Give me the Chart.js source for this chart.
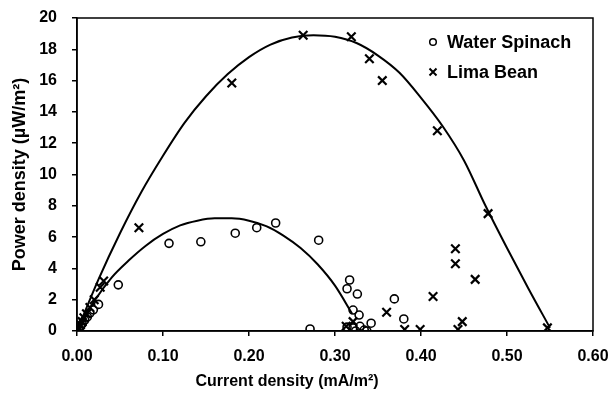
<!DOCTYPE html>
<html>
<head>
<meta charset="utf-8">
<script src="https://cdn.jsdelivr.net/npm/chart.js@4"></script>
<style>
  html, body { margin: 0; padding: 0; background: #fff; }
  #wrap { width: 609px; height: 394px; }
</style>
</head>
<body>
<div id="wrap"><canvas id="grafico" width="609" height="394"></canvas></div>
<script>
// measured points, current density (mA/m2) vs power density (uW/m2)
const spinachX = [0.002, 0.004, 0.006, 0.009, 0.012, 0.015, 0.019, 0.025, 0.048, 0.107, 0.144, 0.184, 0.209, 0.231, 0.281,
                  0.271, 0.317, 0.314, 0.326, 0.369, 0.380, 0.321, 0.328, 0.342, 0.314, 0.321, 0.324, 0.329, 0.334, 0.337];
const spinachY = [0.1, 0.3, 0.45, 0.7, 0.9, 1.15, 1.35, 1.7, 2.95, 5.6, 5.7, 6.25, 6.6, 6.9, 5.8,
                  0.13, 3.26, 2.7, 2.36, 2.05, 0.77, 1.34, 1.02, 0.5, 0.25, 0.2, 0.0, 0.3, 0.06, 0.0];

const limaX = [0.001, 0.002, 0.004, 0.006, 0.008, 0.011, 0.015, 0.020, 0.027, 0.031, 0.072, 0.180, 0.263, 0.319, 0.340,
               0.355, 0.419, 0.478, 0.440, 0.440, 0.463, 0.414, 0.360, 0.448, 0.443, 0.381, 0.399, 0.547, 0.321, 0.313];
const limaY = [0.05, 0.2, 0.4, 0.6, 0.85, 1.1, 1.5, 2.0, 2.8, 3.2, 6.6, 15.85, 18.9, 18.8, 17.4,
               16.0, 12.8, 7.5, 5.25, 4.3, 3.3, 2.2, 1.2, 0.6, 0.1, 0.1, 0.1, 0.2, 0.6, 0.3];

// fitted curves
const spinachFitX = [0, 0.02, 0.04, 0.06, 0.08, 0.10, 0.12, 0.14, 0.16, 0.18, 0.20, 0.22, 0.24, 0.26, 0.28, 0.30, 0.32];
const spinachFitY = [0, 1.9, 3.4, 4.5, 5.45, 6.2, 6.75, 7.05, 7.2, 7.2, 7.05, 6.7, 6.1, 5.3, 4.25, 2.9, 1.1];

const limaFitX = [0, 0.025, 0.05, 0.075, 0.10, 0.125, 0.15, 0.175, 0.20, 0.225, 0.25, 0.275, 0.30, 0.325,
                  0.35, 0.375, 0.40, 0.425, 0.45, 0.475, 0.50, 0.525, 0.55];
const limaFitY = [0, 3.3, 6.25, 8.9, 11.2, 13.3, 15.0, 16.4, 17.5, 18.3, 18.75, 18.9, 18.8, 18.4,
                  17.6, 16.5, 14.9, 13.1, 10.9, 8.0, 5.3, 2.7, 0.2];

const seriesNames = ["Water Spinach", "Lima Bean"];
const xTicks = [0, 0.1, 0.2, 0.3, 0.4, 0.5, 0.6];
const yTicks = [0, 2, 4, 6, 8, 10, 12, 14, 16, 18, 20];

const pares = (xs, ys) => xs.map((x, i) => ({ x: x, y: ys[i] }));

const fonte = "'Liberation Sans', Arial, sans-serif";

// frame around the plot + legend inside the plot + x title
const extras = {
    id: 'extras',
    afterDraw(chart) {
        const ctx = chart.ctx;
        const a = chart.chartArea;
        ctx.save();
        ctx.strokeStyle = '#000';
        ctx.lineWidth = 1.5;
        ctx.strokeRect(a.left, a.top, a.right - a.left, a.bottom - a.top);

        ctx.font = "bold 18px " + fonte;
        ctx.textBaseline = 'middle';
        ctx.fillStyle = '#000';
        const lx = 433, ly = [42, 72];
        // circle
        ctx.lineWidth = 1.5;
        ctx.beginPath();
        ctx.arc(lx, ly[0], 3.3, 0, Math.PI * 2);
        ctx.stroke();
        // cross
        ctx.lineWidth = 2;
        ctx.beginPath();
        ctx.moveTo(lx - 3.5, ly[1] - 3.5); ctx.lineTo(lx + 3.5, ly[1] + 3.5);
        ctx.moveTo(lx + 3.5, ly[1] - 3.5); ctx.lineTo(lx - 3.5, ly[1] + 3.5);
        ctx.stroke();
        ctx.fillText(seriesNames[0], 447, ly[0] + 1);
        ctx.fillText(seriesNames[1], 447, ly[1] + 1);

        ctx.font = "bold 16px " + fonte;
        ctx.textAlign = 'center';
        ctx.fillText('Current density (mA/m²)', 287, 382);
        ctx.restore();
    }
};

const ctx = document.getElementById('grafico').getContext('2d');
new Chart(ctx, {
    type: 'scatter',
    data: {
        datasets: [
            {
                label: seriesNames[0],
                data: pares(spinachX, spinachY),
                pointStyle: 'circle',
                pointRadius: 4,
                borderWidth: 1.6,
                borderColor: '#000',
                backgroundColor: 'rgba(0,0,0,0)'
            },
            {
                label: seriesNames[1],
                data: pares(limaX, limaY),
                pointStyle: 'crossRot',
                pointRadius: 6,
                borderWidth: 2.2,
                borderColor: '#000',
                backgroundColor: 'rgba(0,0,0,0)'
            },
            {
                label: 'fit1',
                data: pares(spinachFitX, spinachFitY),
                showLine: true,
                pointRadius: 0,
                borderColor: '#000',
                borderWidth: 2,
                cubicInterpolationMode: 'monotone'
            },
            {
                label: 'fit2',
                data: pares(limaFitX, limaFitY),
                showLine: true,
                pointRadius: 0,
                borderColor: '#000',
                borderWidth: 2,
                cubicInterpolationMode: 'monotone'
            }
        ]
    },
    options: {
        responsive: false,
        animation: false,
        layout: { padding: { top: 18, right: 16, left: 0, bottom: 0 } },
        plugins: {
            legend: { display: false },
            tooltip: { enabled: false }
        },
        scales: {
            x: {
                type: 'linear',
                min: 0,
                max: 0.6,
                afterFit(s) { s.height = 63; s.paddingLeft = 0; s.paddingRight = 0; },
                afterBuildTicks(s) { s.ticks = xTicks.map(v => ({ value: v })); },
                border: { display: true, color: '#000', width: 1.5 },
                grid: { drawOnChartArea: false, drawTicks: true, tickLength: 5, color: '#000', lineWidth: 1.5 },
                ticks: {
                    color: '#000',
                    padding: 11,
                    maxRotation: 0,
                    font: { family: fonte, size: 16, weight: 'bold' },
                    callback: v => v.toFixed(2)
                },
                title: { display: false }
            },
            y: {
                type: 'linear',
                min: 0,
                max: 20,
                afterFit(s) { s.width = 77; s.paddingTop = 0; s.paddingBottom = 0; },
                afterBuildTicks(s) { s.ticks = yTicks.map(v => ({ value: v })); },
                border: { display: true, color: '#000', width: 1.5 },
                grid: { drawOnChartArea: false, drawTicks: true, tickLength: 5, color: '#000', lineWidth: 1.5 },
                ticks: {
                    color: '#000',
                    padding: 15,
                    font: { family: fonte, size: 16, weight: 'bold' }
                },
                title: {
                    display: true,
                    text: 'Power density (µW/m²)',
                    color: '#000',
                    font: { family: fonte, size: 18, weight: 'bold' },
                    padding: { top: 9, bottom: 0 }
                }
            }
        }
    },
    plugins: [extras]
});
</script>
</body>
</html>
